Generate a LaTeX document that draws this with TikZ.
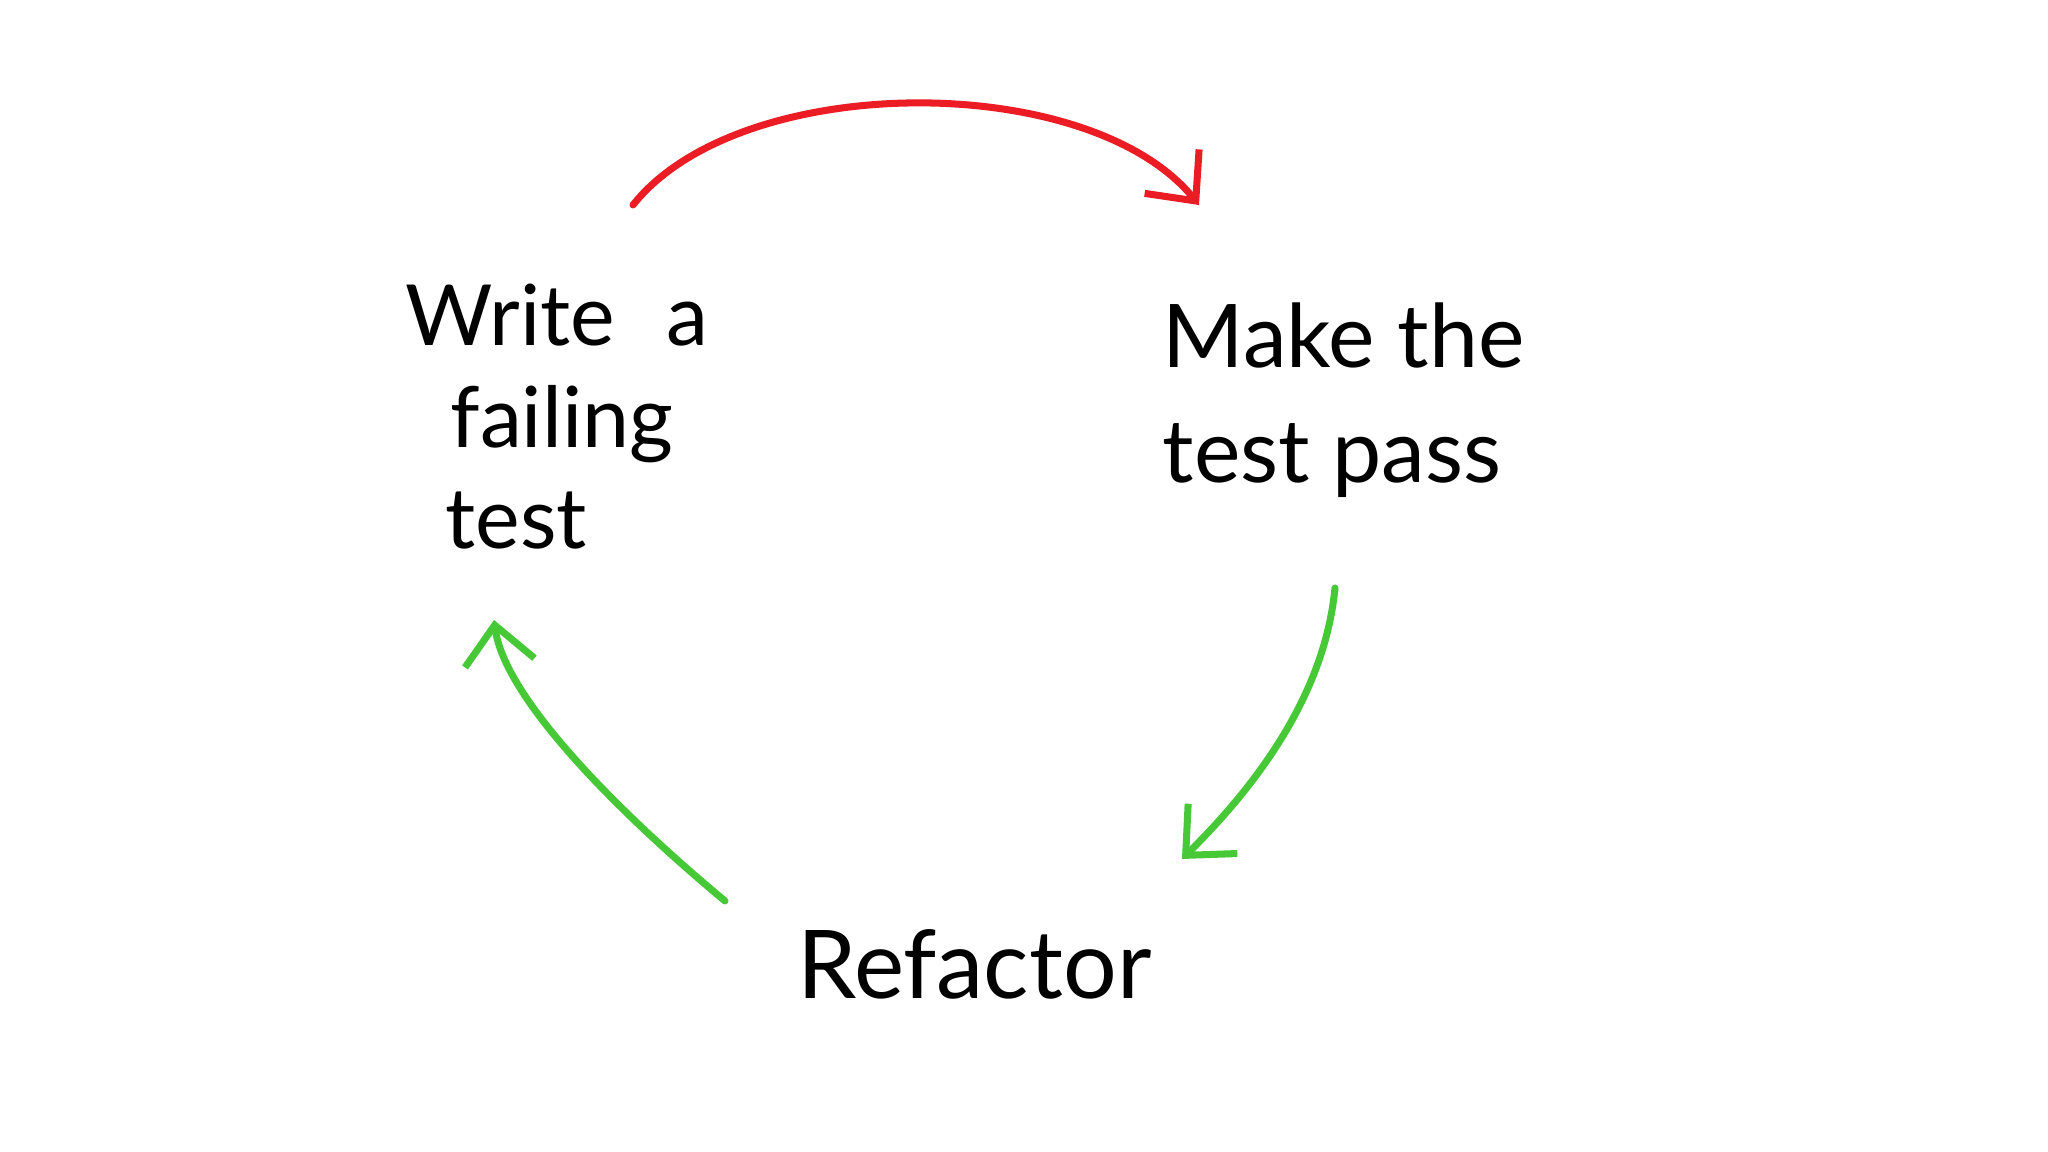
\documentclass[tikz,border=0pt]{standalone}
\usepackage{fontspec}
\setmainfont{Lato}
\usepackage{tikz}
\usetikzlibrary{arrows.meta}
\definecolor{cyclered}{RGB}{235,28,36}
\definecolor{cyclegreen}{RGB}{70,200,55}
\tikzset{
	cyclearrow/.style={line width=2pt,line cap=round,-{Straight Barb[length=0.38cm,width=0.7cm,line width=2pt]}},
	stage/.style={inner sep=0pt,align=left,text=black}
}

\begin{document}
\begin{tikzpicture}
		\useasboundingbox[fill=white] (0,0) rectangle (20.48,11.52);
		% the three steps (base = last line)
		\node[stage,anchor=base west,font=\fontsize{24}{29}\selectfont] (write) at (4.05,6.03) {Write\hspace{0.3cm} a\\\hspace*{0.45cm}failing\\\hspace*{0.4cm}test};
		\node[stage,anchor=base west,font=\fontsize{25}{33}\selectfont] (pass) at (11.62,6.69) {Make the\\test pass};
		\node[stage,anchor=base west,font=\fontsize{27}{33}\selectfont] (refactor) at (7.97,1.53) {Refactor};
		% arrow ends
		\coordinate (redstart) at (6.33,9.47);
		\coordinate (redend) at (11.99,9.47);
		\coordinate (rightstart) at (13.35,5.64);
		\coordinate (rightend) at (11.82,2.93);
		\coordinate (leftstart) at (7.25,2.51);
		\coordinate (leftend) at (4.94,5.32);
		\draw[cyclearrow,cyclered] (redstart) .. controls (7.4,10.82) and (10.9,10.82) .. (redend);
		\draw[cyclearrow,cyclegreen] (rightstart) .. controls (13.25,4.6) and (12.6,3.7) .. (rightend);
		\draw[cyclearrow,cyclegreen] (leftstart) .. controls (6.3,3.3) and (5.05,4.5) .. (leftend);
\end{tikzpicture}
\end{document}
